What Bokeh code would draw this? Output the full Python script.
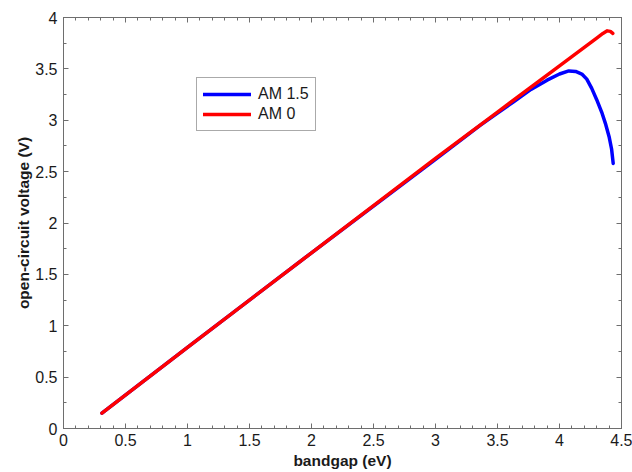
from bokeh.plotting import figure
from bokeh.models import (Range1d, SingleIntervalTicker, LinearAxis, Legend, LegendItem,
                          NumeralTickFormatter, CustomJSTickFormatter)
from bokeh.embed import file_html
from bokeh.resources import INLINE

# AM 1.5 series
am15_x = [0.31, 1.0, 2.0, 3.0, 3.36, 3.5, 3.63, 3.77, 3.9, 4.0, 4.075, 4.13, 4.18,
          4.22, 4.26, 4.30, 4.34, 4.37, 4.40, 4.42, 4.433]
am15_y = [0.15, 0.79, 1.71, 2.62, 2.95, 3.07, 3.18, 3.30, 3.39, 3.45, 3.48, 3.475, 3.45,
          3.40, 3.31, 3.20, 3.08, 2.97, 2.84, 2.72, 2.58]
# AM 0 series
am0_x = [0.31, 1.0, 2.0, 3.0, 3.5, 4.0, 4.2, 4.3, 4.35, 4.385, 4.41, 4.43]
am0_y = [0.15, 0.79, 1.71, 2.63, 3.08, 3.53, 3.71, 3.80, 3.845, 3.87, 3.865, 3.845]

series_labels = ["AM 1.5", "AM 0"]
x_label = "bandgap (eV)"
y_label = "open-circuit voltage (V)"

FONT = "Liberation Sans"
AXC = "#6e6e6e"
TXT = "#1a1a1a"

p = figure(width=632, height=472, output_backend="svg", toolbar_location=None,
           x_range=Range1d(0, 4.5), y_range=Range1d(0, 4),
           min_border_left=63, min_border_right=11, min_border_top=17, min_border_bottom=44)
p.xgrid.visible = False
p.ygrid.visible = False
p.outline_line_color = AXC
p.outline_line_width = 1
p.background_fill_color = "white"
p.border_fill_color = "white"

def style_axis(ax, ticker, labels=True):
    ax.ticker = ticker
    ax.axis_line_color = AXC
    ax.major_tick_line_color = AXC
    ax.minor_tick_line_color = AXC
    ax.major_tick_in = 5
    ax.major_tick_out = 0
    ax.minor_tick_in = 3
    ax.minor_tick_out = 0
    if labels:
        ax.formatter = NumeralTickFormatter(format="0.[0]")
        ax.major_label_text_font = FONT
        ax.major_label_text_font_size = "16px"
        ax.major_label_text_color = TXT
        ax.axis_label_text_font = FONT
        ax.axis_label_text_font_size = "15.5px"
        ax.axis_label_text_font_style = "bold"
        ax.axis_label_text_color = TXT
    else:
        ax.formatter = CustomJSTickFormatter(code="return ''")
        ax.major_label_standoff = 0

xt = lambda: SingleIntervalTicker(interval=0.5, num_minor_ticks=5)
yt = lambda: SingleIntervalTicker(interval=0.5, num_minor_ticks=2)

style_axis(p.xaxis[0], xt())
style_axis(p.yaxis[0], yt())
p.xaxis[0].axis_label = x_label
p.yaxis[0].axis_label = y_label
p.xaxis[0].major_label_standoff = 5
p.xaxis[0].axis_label_standoff = 3
p.yaxis[0].major_label_standoff = 6
p.yaxis[0].axis_label_standoff = 0

top = LinearAxis()
style_axis(top, xt(), labels=False)
p.add_layout(top, "above")
right = LinearAxis()
style_axis(right, yt(), labels=False)
p.add_layout(right, "right")

r1 = p.line(am15_x, am15_y, line_color="#0000ff", line_width=3.5,
            line_join="round", line_cap="round")
r2 = p.line(am0_x, am0_y, line_color="#ff0000", line_width=3.5,
            line_join="round", line_cap="round")

legend = Legend(items=[LegendItem(label=series_labels[0], renderers=[r1]),
                       LegendItem(label=series_labels[1], renderers=[r2])],
                location=(133, 297))
legend.label_text_font = FONT
legend.label_text_font_size = "16px"
legend.label_text_color = TXT
legend.border_line_color = "#555555"
legend.border_line_width = 1
legend.background_fill_color = "white"
legend.background_fill_alpha = 1
legend.padding = 6
legend.margin = 0
legend.spacing = 0
legend.glyph_width = 48
legend.glyph_height = 20
legend.label_height = 20
legend.label_standoff = 7
p.add_layout(legend, "center")

open("out.html", "w").write(file_html(p, INLINE))
